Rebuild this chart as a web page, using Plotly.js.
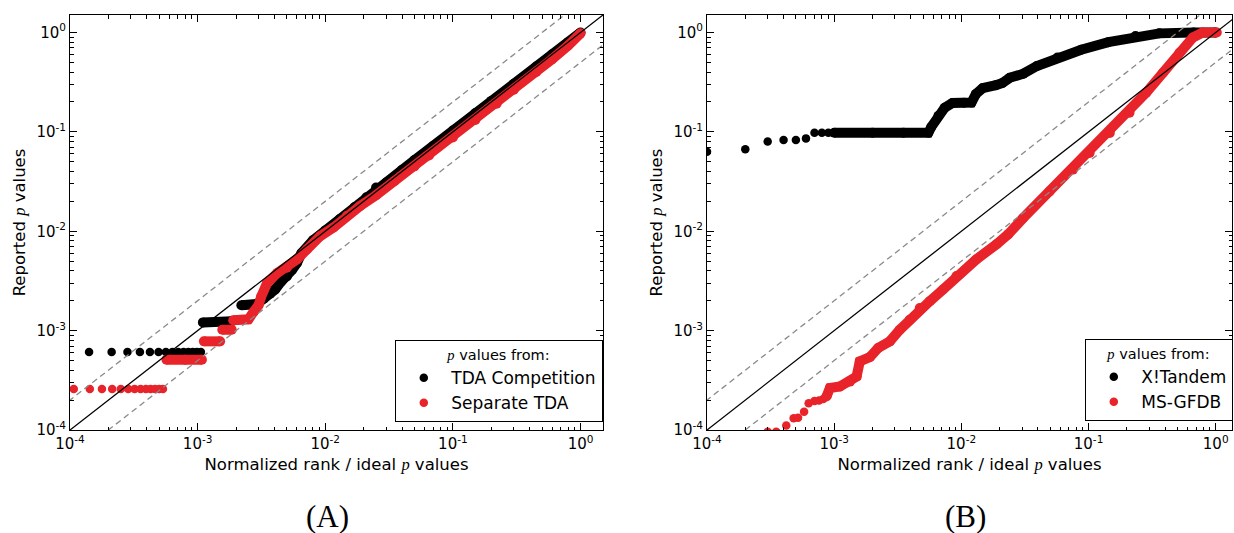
<!DOCTYPE html>
<html>
<head>
<meta charset="utf-8">
<script src="https://cdn.plot.ly/plotly-3.0.1.min.js"></script>
<style>html,body{margin:0;padding:0;background:#fff;}#chart{width:1234px;height:533px;}</style>
</head>
<body>
<div id="chart"></div>
<script>
// ---------------- Data ----------------
// Panel A : TDA Competition (black)
const aBlackDotsX = [1.41e-4, 2.12e-4, 2.82e-4, 3.53e-4, 4.23e-4, 4.94e-4, 5.64e-4, 6.35e-4, 7.05e-4, 7.76e-4, 8.46e-4, 9.17e-4, 9.87e-4, 1.06e-3];
const aBlackDotsY = [6.1e-4, 6.1e-4, 6.1e-4, 6.1e-4, 6.1e-4, 6.1e-4, 6.1e-4, 6.1e-4, 6.1e-4, 6.1e-4, 6.1e-4, 6.1e-4, 6.1e-4, 6.1e-4];
const aBlackBandX = [1.1e-3, 1.5e-3, 1.85e-3, null, 2.2e-3, 2.9e-3, 3.3e-3, 3.7e-3, 4.05e-3, 4.5e-3, 5.0e-3, 5.5e-3, 6.0e-3, 6.5e-3, 8e-3, 1e-2, 1.3e-2, 1.7e-2, 2.1e-2, 2.5e-2, 3e-2, 4e-2, 5e-2, 7e-2, 0.1, 0.15, 0.2, 0.3, 0.45, 0.6, 0.8, 1.0];
const aBlackBandY = [1.21e-3, 1.22e-3, 1.24e-3, null, 1.8e-3, 1.85e-3, 2.1e-3, 2.35e-3, 2.6e-3, 3.1e-3, 3.5e-3, 4.1e-3, 4.8e-3, 6.0e-3, 8.1e-3, 1.02e-2, 1.33e-2, 1.75e-2, 2.2e-2, 2.75e-2, 3.1e-2, 4.15e-2, 5.2e-2, 7.2e-2, 0.103, 0.155, 0.205, 0.305, 0.455, 0.605, 0.8, 1.0];
// Panel A : Separate TDA (red)
const aRedDotsX = [1.07e-4, 1.43e-4, 1.78e-4, 2.14e-4, 2.5e-4, 2.86e-4, 3.21e-4, 3.57e-4, 3.93e-4, 4.28e-4, 4.64e-4, 5.0e-4, 5.35e-4];
const aRedDotsY = [2.58e-4, 2.58e-4, 2.58e-4, 2.58e-4, 2.58e-4, 2.58e-4, 2.58e-4, 2.58e-4, 2.58e-4, 2.58e-4, 2.58e-4, 2.58e-4, 2.58e-4];
const aRedBandX = [5.7e-4, 8e-4, 1.08e-3, null, 1.12e-3, 1.5e-3, null, 1.56e-3, 1.85e-3, null, 1.9e-3, 2.5e-3, 2.75e-3, 3.0e-3, 3.15e-3, 3.5e-3, 4.2e-3, 5e-3, 6e-3, 7.2e-3, 9.1e-3, 1.16e-2, 1.48e-2, 1.88e-2, 2.5e-2, 3.5e-2, 5e-2, 6.5e-2, 0.1, 0.15, 0.22, 0.3, 0.45, 0.6, 0.8, 1.0];
const aRedBandY = [5.1e-4, 5.1e-4, 5.1e-4, null, 7.8e-4, 7.8e-4, null, 1.02e-3, 1.02e-3, null, 1.27e-3, 1.3e-3, 1.55e-3, 1.8e-3, 2.2e-3, 3.0e-3, 3.8e-3, 4.3e-3, 5.2e-3, 6.6e-3, 8.9e-3, 1.09e-2, 1.43e-2, 1.8e-2, 2.3e-2, 3.2e-2, 4.5e-2, 5.8e-2, 0.088, 0.132, 0.192, 0.265, 0.4, 0.54, 0.74, 0.98];

// Panel B : X!Tandem (black)
const bBlackDotsX = [1e-4, 2e-4, 3e-4, 4e-4, 5e-4, 6e-4, 7e-4, 8e-4, 9e-4];
const bBlackDotsY = [0.063, 0.067, 0.080, 0.083, 0.083, 0.086, 0.098, 0.098, 0.098];
const bBlackBandX = [1e-3, 2e-3, 3.5e-3, 5.5e-3, 5.8e-3, 6.6e-3, 7.4e-3, 8.5e-3, 1.05e-2, 1.2e-2, 1.3e-2, 1.47e-2, 1.87e-2, 2.1e-2, 2.4e-2, 3.07e-2, 3.93e-2, 5.7e-2, 8.75e-2, 0.143, 0.234, 0.36, 0.67, 1.0];
const bBlackBandY = [0.098, 0.098, 0.098, 0.098, 0.112, 0.145, 0.175, 0.195, 0.196, 0.197, 0.24, 0.275, 0.295, 0.31, 0.35, 0.385, 0.46, 0.56, 0.67, 0.8, 0.92, 0.98, 1.0, 1.0];
// Panel B : MS-GFDB (red)
const bRedDotsX = [3.0e-4, 3.5e-4, 4.2e-4, 4.8e-4, 5.2e-4, 5.8e-4, 6.3e-4, 7.0e-4, 7.6e-4, 8.2e-4];
const bRedDotsY = [9.6e-5, 9.6e-5, 1.11e-4, 1.31e-4, 1.33e-4, 1.53e-4, 1.86e-4, 1.96e-4, 1.98e-4, 2.05e-4];
const bRedBandX = [8.7e-4, 9.25e-4, 1.11e-3, 1.33e-3, 1.5e-3, 1.59e-3, 1.91e-3, 2.22e-3, 2.74e-3, 3.28e-3, 3.93e-3, 4.71e-3, 5.65e-3, 7.18e-3, 9.15e-3, 1.31e-2, 1.89e-2, 2.33e-2, 3.05e-2, 4.94e-2, 7.54e-2, 0.102, 0.147, 0.21, 0.284, 0.385, 0.52, 0.661, 0.79, 1.02];
const bRedBandY = [2.17e-4, 2.64e-4, 2.74e-4, 3.07e-4, 3.45e-4, 4.9e-4, 5.42e-4, 6.69e-4, 7.8e-4, 1.02e-3, 1.29e-3, 1.69e-3, 1.98e-3, 2.59e-3, 3.54e-3, 5.2e-3, 7.4e-3, 9.3e-3, 1.35e-2, 2.52e-2, 4.17e-2, 6.14e-2, 9.77e-2, 0.156, 0.248, 0.394, 0.628, 0.889, 1.0, 1.0];

// Reference lines: identity, 2x and x/2
const refX = [1e-5, 10];
const identityY = [1e-5, 10];
const upperY = [2e-5, 20];
const lowerY = [5e-6, 5];

// Tick labels
const tickVals = [1e-4, 1e-3, 1e-2, 1e-1, 1];
const tickText = ['10<sup>-4</sup>', '10<sup>-3</sup>', '10<sup>-2</sup>', '10<sup>-1</sup>', '10<sup>0</sup>'];
const seriesNamesA = ['TDA Competition', 'Separate TDA'];
const seriesNamesB = ['X!Tandem', 'MS-GFDB'];
const panelLabels = ['(A)', '(B)'];

// ---------------- Styling ----------------
const RED = '#e8232a';
const BLACK = '#000000';
const MS = 8.5;
const BAND = 10;
const minorVals = [];
for (let e = -5; e <= 1; e++) for (let d = 2; d <= 9; d++) minorVals.push(d * Math.pow(10, e));

const W = 1234, H = 533;
const font = 'DejaVu Sans, Bitstream Vera Sans, sans-serif';
const pItal = "<span style=\"font-family:'Liberation Serif',serif\"><i>p</i></span>";

function dots(x, y, color, name, xa, ya, leg) {
  return {x: x, y: y, type: 'scatter', mode: 'markers', name: name, xaxis: xa, yaxis: ya, legend: leg,
          marker: {color: color, size: MS, line: {width: 0}}, hoverinfo: 'skip', cliponaxis: true};
}
function band(x, y, color, xa, ya) {
  return {x: x, y: y, type: 'scatter', mode: 'lines+markers', showlegend: false, xaxis: xa, yaxis: ya,
          line: {color: color, width: BAND}, marker: {color: color, size: BAND, line: {width: 0}},
          connectgaps: false, hoverinfo: 'skip', cliponaxis: true};
}
function refLines(xa, ya) {
  return [
    {x: refX, y: upperY, type: 'scatter', mode: 'lines', showlegend: false, xaxis: xa, yaxis: ya, line: {color: '#8a8a8a', width: 1.3, dash: '6px,4px'}, hoverinfo: 'skip'},
    {x: refX, y: lowerY, type: 'scatter', mode: 'lines', showlegend: false, xaxis: xa, yaxis: ya, line: {color: '#8a8a8a', width: 1.3, dash: '6px,4px'}, hoverinfo: 'skip'},
    {x: refX, y: identityY, type: 'scatter', mode: 'lines', showlegend: false, xaxis: xa, yaxis: ya, line: {color: '#000', width: 1.3}, hoverinfo: 'skip'}
  ];
}

const data = [
  dots(aBlackDotsX, aBlackDotsY, BLACK, seriesNamesA[0], 'x', 'y', 'legend'),
  band(aBlackBandX, aBlackBandY, BLACK, 'x', 'y'),
  dots(aRedDotsX, aRedDotsY, RED, seriesNamesA[1], 'x', 'y', 'legend'),
  band(aRedBandX, aRedBandY, RED, 'x', 'y'),
  ...refLines('x', 'y'),
  dots(bBlackDotsX, bBlackDotsY, BLACK, seriesNamesB[0], 'x2', 'y2', 'legend2'),
  band(bBlackBandX, bBlackBandY, BLACK, 'x2', 'y2'),
  dots(bRedDotsX, bRedDotsY, RED, seriesNamesB[1], 'x2', 'y2', 'legend2'),
  band(bRedBandX, bRedBandY, RED, 'x2', 'y2'),
  ...refLines('x2', 'y2')
];

function axisBase(extra) {
  return Object.assign({
    type: 'log', tickmode: 'array', tickvals: tickVals, ticktext: tickText,
    ticks: 'inside', ticklen: 7, tickwidth: 1, tickcolor: '#000',
    minor: {tickvals: minorVals, ticks: 'inside', ticklen: 3.5, tickwidth: 1, tickcolor: '#000', showgrid: false},
    showline: true, linecolor: '#000', linewidth: 1, mirror: 'allticks',
    showgrid: false, zeroline: false, automargin: false,
    tickfont: {family: font, size: 15, color: '#000'}
  }, extra);
}

const titleFont = {family: font, size: 16.5, color: '#000'};
const legendBase = {
  bgcolor: '#fff', bordercolor: '#000', borderwidth: 1.3,
  font: {family: font, size: 17, color: '#000'}, itemwidth: 45, tracegroupgap: 0,
  title: {text: pItal + ' values from:', side: 'top center', font: {family: font, size: 14.5, color: '#000'}}
};

const yDom = [(H - 430) / H, (H - 15) / H];
const layout = {
  width: W, height: H,
  margin: {l: 0, r: 0, t: 0, b: 0},
  paper_bgcolor: '#fff', plot_bgcolor: '#fff',
  showlegend: true,
  xaxis: axisBase({domain: [70 / W, 603 / W], range: [-4, Math.log10(1.5)], anchor: 'y',
    title: {text: 'Normalized rank / ideal ' + pItal + ' values', font: titleFont, standoff: 6}}),
  yaxis: axisBase({domain: yDom, range: [-4, Math.log10(1.5)], anchor: 'x',
    title: {text: 'Reported ' + pItal + ' values', font: titleFont, standoff: 6}}),
  xaxis2: axisBase({domain: [707 / W, 1232 / W], range: [-4, 0.128], anchor: 'y2',
    title: {text: 'Normalized rank / ideal ' + pItal + ' values', font: titleFont, standoff: 6}}),
  yaxis2: axisBase({domain: yDom, range: [-4, Math.log10(1.5)], anchor: 'x2',
    title: {text: 'Reported ' + pItal + ' values', font: titleFont, standoff: 6}}),
  legend: Object.assign({x: 603 / W, xanchor: 'right', y: (H - 422) / H, yanchor: 'bottom'}, legendBase),
  legend2: Object.assign({x: 1233 / W, xanchor: 'right', y: (H - 421) / H, yanchor: 'bottom'}, legendBase),
  annotations: [
    {text: panelLabels[0], xref: 'paper', yref: 'paper', x: 327 / W, y: (H - 516) / H, xanchor: 'center', yanchor: 'middle', showarrow: false,
     font: {family: 'Liberation Serif, serif', size: 31, color: '#000'}},
    {text: panelLabels[1], xref: 'paper', yref: 'paper', x: 965 / W, y: (H - 516) / H, xanchor: 'center', yanchor: 'middle', showarrow: false,
     font: {family: 'Liberation Serif, serif', size: 31, color: '#000'}}
  ]
};

Plotly.newPlot('chart', data, layout, {staticPlot: true, displayModeBar: false});
</script>
</body>
</html>
